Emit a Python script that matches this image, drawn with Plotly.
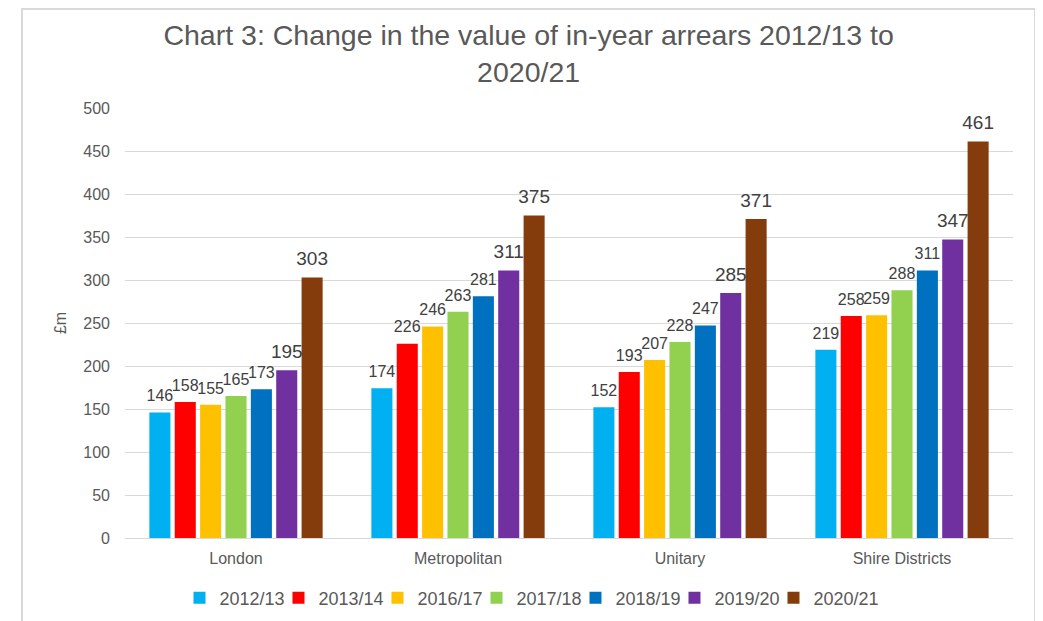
import plotly.graph_objects as go

categories = ["London", "Metropolitan", "Unitary", "Shire Districts"]
years = ["2012/13", "2013/14", "2016/17", "2017/18", "2018/19", "2019/20", "2020/21"]
values = {
    "2012/13": [146, 174, 152, 219],
    "2013/14": [158, 226, 193, 258],
    "2016/17": [155, 246, 207, 259],
    "2017/18": [165, 263, 228, 288],
    "2018/19": [173, 281, 247, 311],
    "2019/20": [195, 311, 285, 347],
    "2020/21": [303, 375, 371, 461],
}
colors = ["#00B0F0", "#FF0000", "#FFC000", "#92D050", "#0070C0", "#7030A0", "#843C0C"]
label_sizes = [16, 16, 16, 16, 16, 19, 19]
LABEL_PAD = 6  # extra gap (axis units) between bar top and its value label

FONT = "Liberation Sans, Arial, sans-serif"

fig = go.Figure()
for yr, col in zip(years, colors):
    fig.add_trace(go.Bar(
        name=yr, x=categories, y=values[yr], offsetgroup=yr,
        marker=dict(color=col, line=dict(width=0)),
        hoverinfo="x+y+name",
    ))
for yr, ls in zip(years, label_sizes):
    fig.add_trace(go.Bar(
        name=yr, x=categories, y=[LABEL_PAD] * len(categories), base=values[yr],
        offsetgroup=yr, showlegend=False, hoverinfo="skip",
        marker=dict(color="rgba(0,0,0,0)", line=dict(width=0)),
        text=values[yr], textposition="outside", constraintext="none",
        cliponaxis=False,
        textfont=dict(family=FONT, size=ls, color="#404040"),
    ))
# empty legend spacer so the last legend label is not clipped
fig.add_trace(go.Scatter(
    x=[None], y=[None], mode="markers", name=" ", hoverinfo="skip",
    marker=dict(color="rgba(0,0,0,0)", size=1),
))

# page body has an 8px offset in the browser
W, H = 1035, 613
ml, mr, mt, mb = 117, 30, 100, 83
pw, ph = W - ml - mr, H - mt - mb

def px_x(x):
    return (x - ml) / pw

def px_y(y):
    return (H - mb - y) / ph

fig.update_layout(
    width=W, height=H,
    margin=dict(l=ml, r=mr, t=mt, b=mb, autoexpand=False),
    paper_bgcolor="white", plot_bgcolor="white",
    barmode="group", bargap=0.2, bargroupgap=0.17,
    font=dict(family=FONT, color="#595959"),
    title=dict(
        text="Chart 3: Change in the value of in-year arrears 2012/13 to<br>2020/21",
        x=0.503, xref="container", xanchor="center", y=0.94, yanchor="top",
        font=dict(family=FONT, size=28.5, color="#595959"),
    ),
    yaxis=dict(
        range=[0, 500], dtick=50, showgrid=True, gridcolor="#D9D9D9", gridwidth=1,
        zeroline=True, zerolinecolor="#D9D9D9", zerolinewidth=1,
        tickfont=dict(family=FONT, size=16, color="#595959"),
        ticklabelstandoff=14,
        title=dict(text="£m", font=dict(family=FONT, size=16, color="#595959"), standoff=12),
        ticks="", showline=False,
    ),
    xaxis=dict(
        tickfont=dict(family=FONT, size=16, color="#595959"),
        ticklabelstandoff=6,
        showline=True, linecolor="#D9D9D9", ticks="",
    ),
    legend=dict(
        orientation="h", x=0.451 + 50 / pw, xanchor="center", y=-0.1395, yanchor="middle",
        font=dict(family=FONT, size=18, color="#595959"),
        itemwidth=30, tracegroupgap=0, traceorder="normal",
        entrywidth=54, entrywidthmode="pixels",
    ),
    shapes=[dict(
        type="rect", xref="paper", yref="paper",
        x0=px_x(14), x1=px_x(1027), y0=px_y(640), y1=px_y(1),
        line=dict(color="#D9D9D9", width=2), fillcolor="rgba(0,0,0,0)", layer="below",
    )],
)

fig.write_html("out.html")
